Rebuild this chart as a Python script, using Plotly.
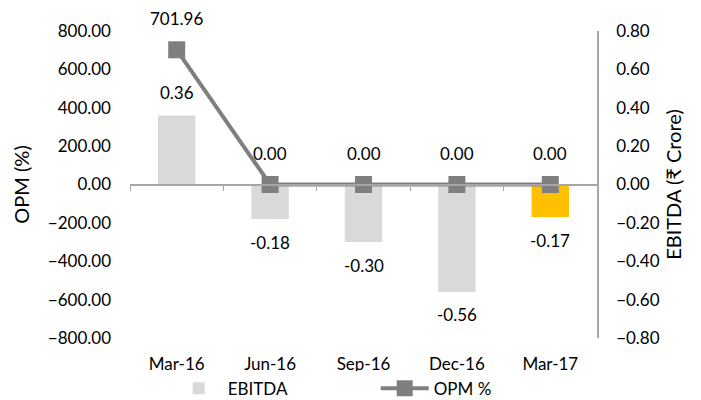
import plotly.graph_objects as go

categories = ["Mar-16", "Jun-16", "Sep-16", "Dec-16", "Mar-17"]
ebitda = [0.36, -0.18, -0.30, -0.56, -0.17]
opm = [701.96, 0.00, 0.00, 0.00, 0.00]
bar_colors = ["#d9d9d9", "#d9d9d9", "#d9d9d9", "#d9d9d9", "#ffc000"]

FONT = "Lato"
FS = 17
fig = go.Figure()
fig.add_trace(go.Bar(
    x=categories, y=ebitda, name="EBITDA", marker=dict(color=bar_colors, line=dict(width=0)),
    width=0.4, xaxis="x", yaxis="y",
))
fig.add_trace(go.Scatter(
    x=categories, y=opm, name="OPM %", mode="lines+markers",
    line=dict(color="#7f7f7f", width=4),
    marker=dict(symbol="square", size=17, color="#7f7f7f"),
    xaxis="x2", yaxis="y2", cliponaxis=False,
))

annotations = []
for c, v in zip(categories, ebitda):
    annotations.append(dict(x=c, y=v, xref="x", yref="y", text=f"{v:.2f}", showarrow=False,
                            yshift=23 if v >= 0 else -23, font=dict(family=FONT, size=FS, color="#000")))
for c, v in zip(categories, opm):
    annotations.append(dict(x=c, y=v, xref="x2", yref="y2", text=f"{v:.2f}", showarrow=False,
                            yshift=31, font=dict(family=FONT, size=FS, color="#000")))

fig.update_layout(
    width=693, height=392,
    margin=dict(l=122, r=104, t=23, b=62, autoexpand=False),
    paper_bgcolor="white", plot_bgcolor="white",
    font=dict(family=FONT, size=FS, color="#000"),
    showlegend=True,
    legend=dict(orientation="h", x=0.085, xanchor="left", y=-0.165, yanchor="middle",
                entrywidth=143, font=dict(size=FS), itemwidth=48),
    annotations=annotations,
    xaxis=dict(type="category", categoryorder="array", categoryarray=categories,
               range=[-0.5, 4.5], showline=False, showgrid=False, zeroline=False,
               ticks="", ticklabelstandoff=14, anchor="y", automargin=False),
    xaxis2=dict(type="category", categoryorder="array", categoryarray=categories,
                range=[-0.5, 4.5], overlaying="x", anchor="free", position=0.5,
                showline=True, linecolor="#a6a6a6", linewidth=1.5,
                ticks="outside", tickson="boundaries", ticklen=6, tickcolor="#a6a6a6",
                showticklabels=False, showgrid=False, zeroline=False, automargin=False),
    yaxis=dict(range=[-0.8, 0.8], side="right", tickvals=[-0.8, -0.6, -0.4, -0.2, 0, 0.2, 0.4, 0.6, 0.8],
               tickformat=".2f", showgrid=False, zeroline=False, showline=True,
               linecolor="#a6a6a6", linewidth=1.5, ticks="", ticklabelstandoff=14,
               title=dict(text="EBITDA (₹ Crore)", standoff=8), anchor="x", automargin=False),
    yaxis2=dict(range=[-800, 800], side="left", overlaying="y", anchor="x2",
                tickvals=[-800, -600, -400, -200, 0, 200, 400, 600, 800],
                tickformat=".2f", showgrid=False, zeroline=False, showline=False,
                ticks="", ticklabelstandoff=18, title=dict(text="OPM (%)", standoff=12),
                automargin=False),
)

fig.write_html("out.html")
